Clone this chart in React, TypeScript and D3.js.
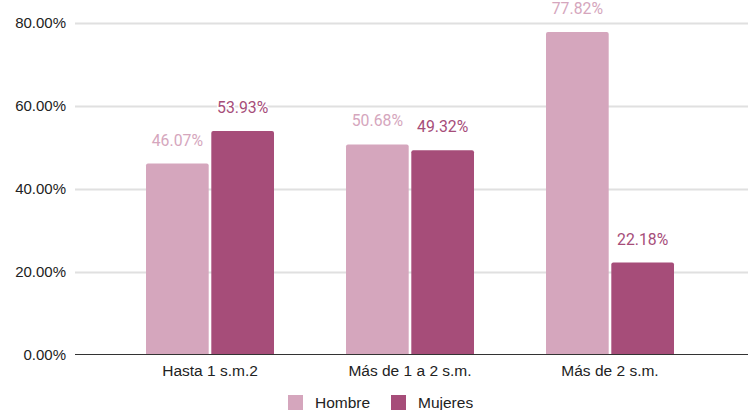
import { useEffect, useRef } from "react";
import * as d3 from "d3";

const categories = ["Hasta 1 s.m.2", "Más de 1 a 2 s.m.", "Más de 2 s.m."];
const series = ["Hombre", "Mujeres"];
const hombre = [46.07, 50.68, 77.82];
const mujeres = [53.93, 49.32, 22.18];
const yTicks = [0, 20, 40, 60, 80];

const colors: Record<string, string> = { Hombre: "#d5a6bd", Mujeres: "#a64d79" };

const App = () => {
  const svgRef = useRef<SVGSVGElement>(null);

  useEffect(() => {
    if (!svgRef.current) return;
    const svg = d3.select(svgRef.current);
    svg.selectAll("*").remove();

    const width = 756;
    const height = 410;

    const y = d3.scaleLinear().domain([0, 80]).range([354.5, 23]);
    const x0 = d3.scaleBand<string>().domain(categories).range([110, 710]);
    const x1 = d3
      .scaleBand<string>()
      .domain(series)
      .range([36, 164])
      .paddingInner(0.04);

    svg.attr("width", width).attr("height", height);

    // grid
    const grid = svg.append("g");
    grid
      .selectAll("line")
      .data(yTicks.filter((t) => t > 0))
      .enter()
      .append("line")
      .attr("x1", 75)
      .attr("x2", 748)
      .attr("y1", (d) => Math.round(y(d)) + 0.5)
      .attr("y2", (d) => Math.round(y(d)) + 0.5)
      .attr("stroke", "#e0e0e0")
      .attr("stroke-width", 2);

    grid
      .selectAll("text")
      .data(yTicks)
      .enter()
      .append("text")
      .attr("x", 66)
      .attr("y", (d) => y(d))
      .attr("dy", "0.35em")
      .attr("text-anchor", "end")
      .attr("font-family", "Liberation Sans, Arial, sans-serif")
      .attr("font-size", 15)
      .attr("fill", "#222")
      .text((d) => `${d.toFixed(2)}%`);

    const rows = categories.map((c, i) => [
      { cat: c, key: "Hombre", value: hombre[i] },
      { cat: c, key: "Mujeres", value: mujeres[i] },
    ]);

    const groups = svg
      .append("g")
      .selectAll("g")
      .data(rows)
      .enter()
      .append("g")
      .attr("transform", (d) => `translate(${x0(d[0].cat)},0)`);

    groups
      .selectAll("path")
      .data((d) => d)
      .enter()
      .append("path")
      .attr("fill", (d) => colors[d.key])
      .attr("d", (d) => {
        const bx = x1(d.key)!;
        const bw = x1.bandwidth();
        const top = y(d.value);
        const bottom = y(0);
        const r = 2;
        return `M${bx},${bottom}V${top + r}Q${bx},${top} ${bx + r},${top}H${bx + bw - r}Q${bx + bw},${top} ${bx + bw},${top + r}V${bottom}Z`;
      });

    groups
      .selectAll("text")
      .data((d) => d)
      .enter()
      .append("text")
      .attr("x", (d) => x1(d.key)! + x1.bandwidth() / 2)
      .attr("y", (d) => y(d.value) - 18)
      .attr("text-anchor", "middle")
      .attr("font-family", "Roboto, sans-serif")
      .attr("font-size", 15.8)
      .attr("fill", (d) => colors[d.key])
      .attr("stroke", "#fff")
      .attr("stroke-width", 3)
      .attr("paint-order", "stroke")
      .text((d) => `${d.value.toFixed(2)}%`);

    // baseline
    svg
      .append("line")
      .attr("x1", 75)
      .attr("x2", 748)
      .attr("y1", y(0))
      .attr("y2", y(0))
      .attr("stroke", "#333")
      .attr("stroke-width", 1);

    svg
      .append("g")
      .selectAll("text")
      .data(categories)
      .enter()
      .append("text")
      .attr("x", (d) => x0(d)! + x0.bandwidth() / 2)
      .attr("y", 371)
      .attr("dy", "0.35em")
      .attr("text-anchor", "middle")
      .attr("font-family", "Liberation Sans, Arial, sans-serif")
      .attr("font-size", 15.5)
      .attr("fill", "#222")
      .text((d) => d);

    // legend
    const legendX = [288, 391];
    const legend = svg
      .append("g")
      .selectAll("g")
      .data(series)
      .enter()
      .append("g")
      .attr("transform", (_, i) => `translate(${legendX[i]},395)`);
    legend
      .append("rect")
      .attr("width", 15)
      .attr("height", 16)
      .attr("fill", (d) => colors[d]);
    legend
      .append("text")
      .attr("x", 27)
      .attr("y", 7.5)
      .attr("dy", "0.35em")
      .attr("font-family", "Liberation Sans, Arial, sans-serif")
      .attr("font-size", 15.5)
      .attr("fill", "#222")
      .text((d) => d);
  }, []);

  return (
    <div style={{ position: "fixed", left: 0, top: 0, background: "#fff" }}>
      <svg ref={svgRef} style={{ display: "block" }} />
    </div>
  );
};

export default App;
